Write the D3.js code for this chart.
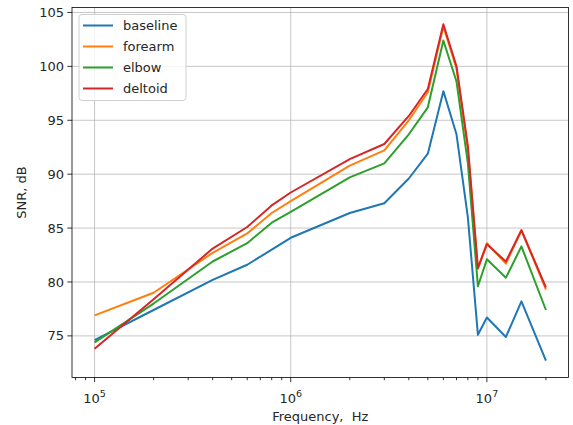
<!DOCTYPE html>
<html>
<head>
<meta charset="utf-8">
<script src="https://cdn.jsdelivr.net/npm/d3@7"></script>
<style>
  body { margin: 0; background: #fff; }
  text { font-family: "DejaVu Sans", sans-serif; fill: #262626; }
</style>
</head>
<body>
<svg id="chart"></svg>
<script>
// frequency points, Hz
const freqs = [1e5, 2e5, 4e5, 6e5, 8e5, 1e6, 2e6, 3e6, 4e6, 5e6, 6e6, 7e6, 8e6, 9e6, 1e7, 1.25e7, 1.5e7, 2e7]
const baseline = [74.6, 77.4, 80.2, 81.6, 83.0, 84.1, 86.4, 87.3, 89.6, 91.9, 97.7, 93.7, 86.0, 75.1, 76.7, 74.9, 78.2, 72.7]
const forearm  = [76.9, 79.0, 82.7, 84.5, 86.4, 87.5, 90.8, 92.2, 95.0, 97.6, 103.7, 99.8, 92.3, 81.2, 83.6, 81.7, 84.8, 79.3]
const elbow    = [74.4, 78.0, 81.9, 83.6, 85.5, 86.5, 89.7, 91.0, 93.7, 96.2, 102.4, 98.6, 91.0, 79.6, 82.1, 80.4, 83.3, 77.4]
const deltoid  = [73.8, 78.4, 83.1, 85.1, 87.1, 88.3, 91.4, 92.8, 95.4, 97.9, 103.9, 100.0, 92.6, 81.3, 83.5, 81.9, 84.8, 79.5]

const seriesNames = ['baseline', 'forearm', 'elbow', 'deltoid']
const seriesData = [baseline, forearm, elbow, deltoid]
const colors = ['#1f77b4', '#ff7f0e', '#2ca02c', '#d62728']
const yTicks = [75, 80, 85, 90, 95, 100, 105]
const xMajor = [1e5, 1e6, 1e7]

const W = 573, H = 425
const margin = {top: 7.5, right: 4.5, bottom: 47.5, left: 72}
const width = W - margin.left - margin.right
const height = H - margin.top - margin.bottom

const svg = d3.select('#chart')
	.attr('width', W)
	.attr('height', H)

const g = svg.append('g')
	.attr('transform', 'translate(' + margin.left + ',' + margin.top + ')')

// matplotlib style 5% margins
const lx = d3.extent(freqs).map(Math.log10)
const padX = (lx[1] - lx[0]) * 0.05
const x = d3.scaleLog()
	.domain([Math.pow(10, lx[0] - padX), Math.pow(10, lx[1] + padX)])
	.range([0, width])

const allY = seriesData.flat()
const ey = d3.extent(allY)
const padY = (ey[1] - ey[0]) * 0.05
const y = d3.scaleLinear()
	.domain([ey[0] - padY, ey[1] + padY])
	.range([height, 0])

// grid
g.append('g')
	.selectAll('line')
	.data(yTicks)
	.enter().append('line')
	.attr('x1', 0).attr('x2', width)
	.attr('y1', d => y(d)).attr('y2', d => y(d))
	.attr('stroke', '#b0b0b0').attr('stroke-width', 1).attr('opacity', 0.7)

g.append('g')
	.selectAll('line')
	.data(xMajor)
	.enter().append('line')
	.attr('y1', 0).attr('y2', height)
	.attr('x1', d => x(d)).attr('x2', d => x(d))
	.attr('stroke', '#b0b0b0').attr('stroke-width', 1).attr('opacity', 0.7)

// lines
g.append('clipPath').attr('id', 'clip')
	.append('rect').attr('width', width).attr('height', height)

const line = d3.line()
	.x((d, i) => x(freqs[i]))
	.y(d => y(d))

seriesData.forEach((s, k) => {
	g.append('path')
		.datum(s)
		.attr('clip-path', 'url(#clip)')
		.attr('fill', 'none')
		.attr('stroke', colors[k])
		.attr('stroke-width', 2)
		.attr('stroke-linejoin', 'round')
		.attr('d', line)
})

// x axis with major and minor ticks
const minor = []
for (let e = 4; e <= 7; e++) {
	for (let m = 2; m <= 9; m++) {
		const v = m * Math.pow(10, e)
		if (v >= x.domain()[0] && v <= x.domain()[1]) minor.push(v)
	}
}

const xAxis = g.append('g').attr('transform', 'translate(0,' + height + ')')
xAxis.selectAll('.minor')
	.data(minor)
	.enter().append('line')
	.attr('x1', d => x(d)).attr('x2', d => x(d))
	.attr('y1', 0).attr('y2', 2.7)
	.attr('stroke', '#000').attr('stroke-width', 0.8)

xAxis.selectAll('.major')
	.data(xMajor)
	.enter().append('line')
	.attr('x1', d => x(d)).attr('x2', d => x(d))
	.attr('y1', 0).attr('y2', 4.7)
	.attr('stroke', '#000').attr('stroke-width', 0.8)

const xl = xAxis.selectAll('.lbl')
	.data(xMajor)
	.enter().append('text')
	.attr('x', d => x(d))
	.attr('y', 25)
	.attr('text-anchor', 'middle')
	.attr('font-size', 13)
xl.append('tspan').text('10')
xl.append('tspan')
	.attr('font-size', 9.5)
	.attr('dy', -6)
	.text(d => Math.round(Math.log10(d)))

// y axis
const yAxis = g.append('g')
yAxis.selectAll('line')
	.data(yTicks)
	.enter().append('line')
	.attr('x1', -4.7).attr('x2', 0)
	.attr('y1', d => y(d)).attr('y2', d => y(d))
	.attr('stroke', '#000').attr('stroke-width', 0.8)
yAxis.selectAll('text')
	.data(yTicks)
	.enter().append('text')
	.attr('x', -8)
	.attr('y', d => y(d))
	.attr('dy', '0.35em')
	.attr('text-anchor', 'end')
	.attr('font-size', 13)
	.text(d => d)

// frame
g.append('rect')
	.attr('width', width).attr('height', height)
	.attr('fill', 'none').attr('stroke', '#000').attr('stroke-width', 0.8)

// axis labels
svg.append('text')
	.attr('x', margin.left + width / 2)
	.attr('y', H - 4)
	.attr('text-anchor', 'middle')
	.attr('font-size', 13)
	.attr('xml:space', 'preserve')
	.text('Frequency,  Hz')

svg.append('text')
	.attr('transform', 'translate(26,' + (margin.top + height / 2) + ') rotate(-90)')
	.attr('text-anchor', 'middle')
	.attr('font-size', 13)
	.text('SNR, dB')

// legend
const leg = g.append('g').attr('transform', 'translate(7,7)')
leg.append('rect')
	.attr('width', 107).attr('height', 86)
	.attr('rx', 3)
	.attr('fill', '#fff').attr('fill-opacity', 0.8)
	.attr('stroke', '#d0d0d0').attr('stroke-width', 1)

seriesNames.forEach((name, k) => {
	const yy = 11 + k * 21
	leg.append('line')
		.attr('x1', 4).attr('x2', 34)
		.attr('y1', yy).attr('y2', yy)
		.attr('stroke', colors[k]).attr('stroke-width', 2)
	leg.append('text')
		.attr('x', 44).attr('y', yy)
		.attr('dy', '0.35em')
		.attr('font-size', 13)
		.text(name)
})
</script>
</body>
</html>
